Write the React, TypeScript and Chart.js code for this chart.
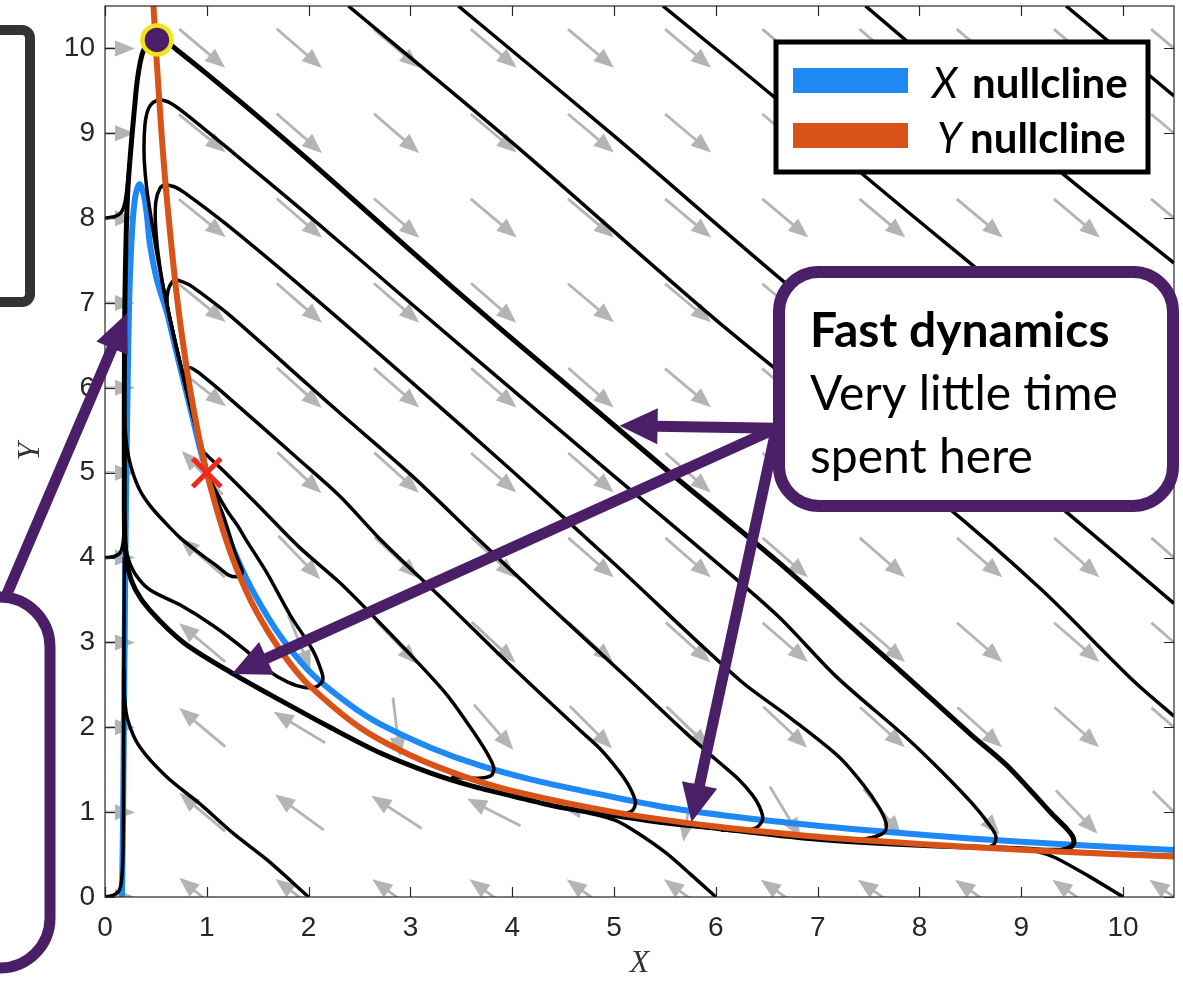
import React, { useEffect, useRef } from 'react';
import { Chart, registerables } from 'chart.js';

Chart.register(...registerables);

// ---------------- data ----------------
const X_TICKS = [0, 1, 2, 3, 4, 5, 6, 7, 8, 9, 10];
const Y_TICKS = [0, 1, 2, 3, 4, 5, 6, 7, 8, 9, 10];

// quiver grid (arrow centres) and arrow directions (degrees on screen, CCW)
const QUIVER_X = [0, 0.955, 1.909, 2.864, 3.818, 4.773, 5.727, 6.682, 7.636, 8.591, 9.545, 10.5];
const QUIVER_Y = [0, 1, 2, 3, 4, 5, 6, 7, 8, 9, 10];
const ANG_Y0 = [0, 140, 143, 144, 144, 144, 144, 145, 145, 145, 145, 145];
const ANG_Y1 = [0, 140, 144, 147, 153, 170, -99, -59, -51, -48, -46, -45];
const ANG_Y2 = [0, 140, 149, -83, -49, -45, -44, -43, -42, -42, -42, -41];
const ANG_Y3 = [0, 140, -68, -46, -43, -42, -42, -41, -41, -41, -41, -41];
const ANG_Y4 = [0, 139, -46, -43, -42, -41, -41, -41, -41, -41, -41, -41];
const ANG_Y5 = [0, 133, -43, -42, -41, -41, -41, -41, -41, -40, -40, -40];
const ANG_Y6 = [0, -38, -42, -41, -41, -41, -40, -40, -40, -40, -40, -40];
const ANG_Y7 = [0, -39, -41, -41, -41, -40, -40, -40, -40, -40, -40, -40];
const ANG_Y8 = [0, -39, -41, -41, -40, -40, -40, -40, -40, -40, -40, -40];
const ANG_Y9 = [0, -39, -41, -41, -40, -40, -40, -40, -40, -40, -40, -40];
const ANG_Y10 = [0, -40, -41, -40, -40, -40, -40, -40, -40, -40, -40, -40];
const QUIVER_ANGLES = [ANG_Y0, ANG_Y1, ANG_Y2, ANG_Y3, ANG_Y4, ANG_Y5, ANG_Y6, ANG_Y7, ANG_Y8, ANG_Y9, ANG_Y10];

// nullclines
const X_NULLCLINE = [
  [0.167, 0], [0.178, 1], [0.185, 2], [0.193, 3], [0.2, 4], [0.21, 5], [0.222, 6], [0.237, 7], [0.255, 7.6],
  [0.278, 8.05], [0.305, 8.3], [0.34, 8.4], [0.38, 8.28], [0.41, 8.05], [0.44, 7.7], [0.51, 7.27], [0.61, 6.88],
  [0.69, 6.48], [0.77, 6.09], [0.85, 5.7], [0.93, 5.3], [1.0, 5.0], [1.1, 4.6], [1.2, 4.27], [1.39, 3.75],
  [1.6, 3.3], [1.8, 2.95], [2.04, 2.62], [2.4, 2.27], [2.7, 2.04], [3.2, 1.76], [3.68, 1.55], [4.2, 1.38],
  [4.66, 1.26], [5.45, 1.07], [6.23, 0.94], [7.0, 0.84], [7.67, 0.77], [8.5, 0.69], [9.5, 0.615], [10.5, 0.555]
];
const Y_NULLCLINE = [
  [0.476, 10.5], [0.5, 10], [0.55, 9.09], [0.6, 8.33], [0.7, 7.14], [0.8, 6.25], [0.9, 5.56], [1.0, 5.0],
  [1.2, 4.17], [1.4, 3.57], [1.6, 3.13], [1.8, 2.78], [2.0, 2.5], [2.5, 2.0], [3.0, 1.67], [3.5, 1.43],
  [4.0, 1.25], [5.0, 1.0], [6.0, 0.83], [7.0, 0.71], [8.0, 0.625], [9.0, 0.556], [10.0, 0.5], [10.5, 0.476]
];

// trajectories
const LIMIT_CYCLE = [
  [0.51, 10.1], [0.62, 10.06], [0.72, 9.97], [1.0, 9.7], [1.5, 9.2], [2.11, 8.57], [3.0, 7.62], [3.88, 6.7],
  [4.5, 6.07], [5.5, 5.05], [6.6, 3.96], [7.5, 3.0], [7.9, 2.57], [8.5, 1.92], [8.85, 1.56], [9.08, 1.27],
  [9.3, 0.98], [9.45, 0.8], [9.51, 0.7], [9.51, 0.62], [9.44, 0.565], [9.3, 0.55], [9.0, 0.57], [8.0, 0.61],
  [7.0, 0.68], [6.0, 0.81], [5.45, 0.88], [5.0, 0.96], [4.5, 1.05], [4.0, 1.19], [3.6, 1.31], [3.2, 1.46],
  [2.7, 1.7], [2.21, 2.0], [1.72, 2.32], [1.26, 2.63], [0.77, 3.0], [0.44, 3.38], [0.3, 3.62], [0.23, 3.85],
  [0.195, 4.2], [0.19, 5.0], [0.19, 6.0], [0.195, 7.0], [0.208, 7.8], [0.225, 8.35], [0.255, 8.83], [0.29, 9.3],
  [0.32, 9.65], [0.37, 9.95], [0.44, 10.07], [0.51, 10.1]
];
const PEAK_1 = [
  [1.0, 5.0], [0.96, 5.26], [0.88, 5.6], [0.8, 5.98], [0.72, 6.38], [0.64, 6.8], [0.57, 7.2], [0.51, 7.58],
  [0.46, 7.95], [0.41, 8.35], [0.385, 8.7], [0.385, 8.95], [0.4, 9.17], [0.44, 9.32], [0.52, 9.39], [0.62, 9.37],
  [0.77, 9.25], [1.26, 8.77], [2.0, 8.03], [3.0, 7.0], [4.0, 5.98], [5.0, 4.96], [6.0, 3.95], [6.62, 3.3],
  [7.18, 2.6], [7.87, 1.88], [8.2, 1.5], [8.52, 1.1], [8.68, 0.86], [8.75, 0.72], [8.73, 0.62], [8.64, 0.585], [8.45, 0.59]
];
const PEAK_2 = [
  [1.0, 5.0], [0.96, 5.26], [0.88, 5.6], [0.8, 5.98], [0.72, 6.38], [0.64, 6.8], [0.57, 7.2], [0.52, 7.6],
  [0.495, 7.95], [0.5, 8.2], [0.54, 8.35], [0.59, 8.39], [0.68, 8.37], [0.77, 8.31], [1.2, 7.92], [2.0, 7.12],
  [3.0, 6.08], [4.0, 5.02], [5.0, 3.93], [6.23, 2.56], [6.72, 2.12], [7.21, 1.65], [7.45, 1.32], [7.6, 1.06],
  [7.67, 0.88], [7.66, 0.77], [7.56, 0.71], [7.35, 0.66]
];
const PEAK_3 = [
  [1.0, 5.0], [0.96, 5.26], [0.88, 5.6], [0.8, 5.98], [0.72, 6.38], [0.65, 6.75], [0.61, 7.0], [0.62, 7.15],
  [0.66, 7.25], [0.7, 7.27], [0.8, 7.23], [0.86, 7.19], [1.2, 6.88], [2.0, 6.03], [2.31, 5.7], [3.0, 4.98],
  [3.68, 4.2], [4.3, 3.5], [5.15, 2.56], [5.7, 1.94], [6.0, 1.62], [6.23, 1.38], [6.36, 1.2], [6.43, 1.06],
  [6.46, 0.92], [6.4, 0.82], [6.25, 0.78], [6.05, 0.79]
];
const PEAK_4 = [
  [1.0, 5.0], [0.96, 5.26], [0.88, 5.6], [0.81, 5.95], [0.785, 6.08], [0.79, 6.18], [0.82, 6.24], [0.87, 6.22],
  [0.93, 6.17], [1.2, 5.9], [1.91, 5.15], [2.31, 4.72], [2.7, 4.22], [3.36, 3.46], [4.0, 2.71], [4.66, 1.97],
  [4.86, 1.75], [5.05, 1.48], [5.15, 1.3], [5.21, 1.12], [5.18, 1.02], [5.08, 0.98], [4.9, 0.98]
];
const DOWN_1 = [
  [1.0, 5.0], [1.05, 4.85], [1.1, 4.68], [1.16, 4.5], [1.22, 4.28], [1.28, 4.05], [1.33, 3.9], [1.35, 3.83],
  [1.32, 3.78], [1.22, 3.79], [1.1, 3.9], [0.93, 4.05], [0.75, 4.22], [0.6, 4.4], [0.45, 4.6], [0.34, 4.8],
  [0.26, 5.05], [0.215, 5.3], [0.193, 5.6]
];
const DOWN_2 = [
  [1.0, 5.0], [1.08, 4.8], [1.2, 4.55], [1.3, 4.38], [1.39, 4.2], [1.59, 3.82], [1.82, 3.32], [2.04, 2.91],
  [2.12, 2.68], [2.14, 2.56], [2.08, 2.48], [1.96, 2.47], [1.8, 2.53], [1.59, 2.68], [1.39, 2.9], [1.06, 3.2],
  [0.74, 3.44], [0.44, 3.62], [0.3, 3.8], [0.225, 4.0], [0.196, 4.2]
];
const DOWN_3 = [
  [0.97, 5.24], [1.2, 4.98], [1.5, 4.62], [1.91, 4.12], [2.31, 3.7], [2.7, 3.23], [3.02, 2.83], [3.36, 2.38],
  [3.6, 1.98], [3.75, 1.7], [3.82, 1.52], [3.79, 1.43], [3.66, 1.4], [3.4, 1.41]
];
const START_0_0 = [[0, 0], [0.08, 0.02], [0.14, 0.08], [0.165, 0.22], [0.178, 0.6], [0.183, 1.5], [0.185, 2.5], [0.188, 3.5], [0.19, 4.0]];
const START_2_0 = [[2, 0], [1.59, 0.44], [1.26, 0.75], [0.93, 1.1], [0.61, 1.41], [0.34, 1.77], [0.225, 2.08], [0.192, 2.35], [0.185, 2.7]];
const START_6_0 = [[6, 0], [5.75, 0.27], [5.51, 0.52], [5.25, 0.74], [5.02, 0.9], [4.75, 0.99], [4.5, 1.05]];
const START_10_0 = [[10, 0], [9.67, 0.24], [9.34, 0.46], [9.15, 0.54], [8.9, 0.58]];
const START_0_4 = [[0, 4], [0.08, 4.01], [0.15, 4.06], [0.18, 4.2], [0.19, 4.45]];
const START_0_8 = [[0, 8], [0.1, 8.02], [0.16, 8.07], [0.195, 8.18], [0.225, 8.45], [0.255, 8.83], [0.29, 9.3]];
const FROM_RIGHT = [[10.5, 0.49], [10, 0.51], [9.5, 0.54], [9.2, 0.555]];
const DIAG_1 = [[2.39, 10.5], [4, 8.89], [6.1, 6.7], [8.19, 4.68], [9.2, 3.62], [10.09, 2.56], [10.5, 2.13]];
const DIAG_2 = [[3.47, 10.5], [5, 8.97], [6.62, 7.3], [8, 5.95], [9.3, 4.68], [10.5, 3.46]];
const DIAG_3 = [[5.48, 10.5], [6.62, 9.38], [7.41, 8.55], [9, 6.97], [10.5, 5.45]];
const DIAG_4 = [[7.47, 10.5], [8.5, 9.45], [9.4, 8.53], [10.5, 7.47]];
const DIAG_5 = [[9.44, 10.5], [10.5, 9.44]];

const THIN_TRAJECTORIES = [PEAK_1, PEAK_2, PEAK_3, PEAK_4, DOWN_1, DOWN_2, DOWN_3, START_0_0, START_2_0,
  START_6_0, START_10_0, START_0_4, START_0_8, FROM_RIGHT, DIAG_1, DIAG_2, DIAG_3, DIAG_4, DIAG_5];

const FIXED_POINT = [[1.0, 5.0]];
const CURRENT_STATE = [[0.51, 10.1]];

const LEGEND_SYMBOLS = ['X', 'Y'];
const LEGEND_WORD = 'nullcline';
const CALLOUT_TITLE = 'Fast dynamics';
const CALLOUT_LINES = ['Very little time', 'spent here'];
const X_TITLE = 'X';
const Y_TITLE = 'Y';

// ---------------- styles ----------------
const BLUE = '#1e88f4';
const ORANGE = '#d95319';
const PURPLE = '#4b1f68';
const YELLOW = '#f3e514';
const RED = '#f0291f';
const ARROW_GRAY = '#b4b4b4';
const AXIS_COLOR = '#262626';

// annotation anchors in data units
const CALLOUT_ORIGIN = [6.595, 5.524];
const CALLOUT_TIPS = [[5.054, 5.554], [1.246, 2.627], [5.761, 0.883]];
const LEFT_POINTER = { from: [-0.972, 3.545], to: [0.216, 6.879] };

const toPts = (a: number[][]) => a.map(([x, y]) => ({ x, y }));

function drawArrow(ctx: CanvasRenderingContext2D, x0: number, y0: number, x1: number, y1: number, w: number, hl: number, hw: number) {
  const dx = x1 - x0, dy = y1 - y0;
  const len = Math.hypot(dx, dy);
  const ux = dx / len, uy = dy / len;
  const bx = x1 - ux * hl, by = y1 - uy * hl;
  ctx.lineWidth = w;
  ctx.lineCap = 'butt';
  ctx.beginPath();
  ctx.moveTo(x0, y0);
  ctx.lineTo(bx + ux * 2, by + uy * 2);
  ctx.stroke();
  ctx.beginPath();
  ctx.moveTo(x1, y1);
  ctx.lineTo(bx - uy * hw, by + ux * hw);
  ctx.lineTo(bx + uy * hw, by - ux * hw);
  ctx.closePath();
  ctx.fill();
}

function roundRect(ctx: CanvasRenderingContext2D, x: number, y: number, w: number, h: number, r: number) {
  ctx.beginPath();
  ctx.moveTo(x + r, y);
  ctx.arcTo(x + w, y, x + w, y + h, r);
  ctx.arcTo(x + w, y + h, x, y + h, r);
  ctx.arcTo(x, y + h, x, y, r);
  ctx.arcTo(x, y, x + w, y, r);
  ctx.closePath();
}

const quiverPlugin = {
  id: 'quiver',
  beforeDatasetsDraw(chart: any) {
    const { ctx, chartArea: a, scales } = chart;
    ctx.save();
    ctx.beginPath();
    ctx.rect(a.left, a.top, a.right - a.left, a.bottom - a.top);
    ctx.clip();
    ctx.strokeStyle = ARROW_GRAY;
    ctx.fillStyle = ARROW_GRAY;
    ctx.lineWidth = 2.8;
    const L = 60, H = 20, W = 8;
    QUIVER_Y.forEach((yv, r) => {
      QUIVER_X.forEach((xv, c) => {
        const cx = scales.x.getPixelForValue(xv);
        const cy = scales.y.getPixelForValue(yv);
        const th = (QUIVER_ANGLES[r][c] * Math.PI) / 180;
        const ux = Math.cos(th), uy = -Math.sin(th);
        const tx = cx - (ux * L) / 2, ty = cy - (uy * L) / 2;
        const hx = cx + (ux * L) / 2, hy = cy + (uy * L) / 2;
        const bx = hx - ux * H, by = hy - uy * H;
        ctx.beginPath();
        ctx.moveTo(tx, ty);
        ctx.lineTo(bx + ux * 2, by + uy * 2);
        ctx.stroke();
        ctx.beginPath();
        ctx.moveTo(hx, hy);
        ctx.lineTo(bx - uy * W, by + ux * W);
        ctx.lineTo(bx + uy * W, by - ux * W);
        ctx.closePath();
        ctx.fill();
      });
    });
    ctx.restore();
  }
};

const framePlugin = {
  id: 'frame',
  afterDatasetsDraw(chart: any) {
    const { ctx, chartArea: a, scales } = chart;
    ctx.save();
    ctx.strokeStyle = AXIS_COLOR;
    ctx.lineWidth = 1.2;
    ctx.strokeRect(a.left, a.top, a.right - a.left, a.bottom - a.top);
    const tl = 10;
    ctx.beginPath();
    X_TICKS.forEach((v) => {
      const px = Math.round(scales.x.getPixelForValue(v)) + 0.5;
      ctx.moveTo(px, a.bottom); ctx.lineTo(px, a.bottom - tl);
      ctx.moveTo(px, a.top); ctx.lineTo(px, a.top + tl);
    });
    Y_TICKS.forEach((v) => {
      const py = Math.round(scales.y.getPixelForValue(v)) + 0.5;
      ctx.moveTo(a.left, py); ctx.lineTo(a.left + tl, py);
      ctx.moveTo(a.right, py); ctx.lineTo(a.right - tl, py);
    });
    ctx.stroke();
    ctx.restore();
  }
};

const overlayPlugin = {
  id: 'overlay',
  afterDraw(chart: any) {
    const { ctx, scales } = chart;
    const px = (p: number[]) => [scales.x.getPixelForValue(p[0]), scales.y.getPixelForValue(p[1])];
    ctx.save();

    // callout arrows
    ctx.strokeStyle = PURPLE;
    ctx.fillStyle = PURPLE;
    const [ox, oy] = px(CALLOUT_ORIGIN);
    CALLOUT_TIPS.forEach((t) => {
      const [tx, ty] = px(t);
      drawArrow(ctx, ox, oy, tx, ty, 11, 38, 18);
    });

    // callout box
    roundRect(ctx, 779, 272, 394, 234, 40);
    ctx.fillStyle = '#ffffff';
    ctx.fill();
    ctx.lineWidth = 12;
    ctx.strokeStyle = PURPLE;
    ctx.stroke();
    ctx.fillStyle = '#000000';
    ctx.textBaseline = 'alphabetic';
    ctx.textAlign = 'left';
    ctx.font = 'bold 48px Lato';
    ctx.fillText(CALLOUT_TITLE, 810, 347);
    ctx.font = '48px Lato';
    CALLOUT_LINES.forEach((s, i) => ctx.fillText(s, 810, 410 + i * 63));

    // legend
    ctx.fillStyle = '#ffffff';
    ctx.fillRect(776, 42, 372, 130);
    ctx.lineWidth = 5;
    ctx.strokeStyle = '#000000';
    ctx.strokeRect(776, 42, 372, 130);
    const swatch = [BLUE, ORANGE];
    LEGEND_SYMBOLS.forEach((sym, i) => {
      const base = 98 + i * 55;
      ctx.fillStyle = swatch[i];
      ctx.fillRect(793, base - 30, 115, 25);
      ctx.fillStyle = '#000000';
      ctx.font = 'italic 42px Lato';
      ctx.fillText(sym, i === 0 ? 932 : 937, base);
      ctx.font = 'bold 42px Lato';
      ctx.fillText(LEGEND_WORD, i === 0 ? 972 : 970, base);
    });

    // top-left grey bracket box
    ctx.strokeStyle = '#333333';
    ctx.lineWidth = 10;
    ctx.lineJoin = 'round';
    ctx.beginPath();
    ctx.moveTo(-10, 30);
    ctx.arcTo(30, 30, 30, 70, 8);
    ctx.arcTo(30, 302, -10, 302, 8);
    ctx.lineTo(-10, 302);
    ctx.stroke();

    // bottom-left purple box and pointer
    ctx.strokeStyle = PURPLE;
    ctx.fillStyle = PURPLE;
    ctx.lineWidth = 11;
    ctx.beginPath();
    ctx.moveTo(-10, 597);
    ctx.arcTo(50, 597, 50, 700, 50);
    ctx.arcTo(50, 968, -10, 968, 50);
    ctx.lineTo(-10, 968);
    ctx.stroke();
    const [fx, fy] = px(LEFT_POINTER.from);
    const [tx, ty] = px(LEFT_POINTER.to);
    drawArrow(ctx, fx, fy, tx, ty, 11, 38, 17);

    ctx.restore();
  }
};

export default function App() {
  const ref = useRef<HTMLCanvasElement>(null);
  useEffect(() => {
    const canvas = ref.current!;
    const lineDs = (data: number[][], color: string, width: number, order: number) => ({
      type: 'line',
      data: toPts(data),
      borderColor: color,
      backgroundColor: color,
      borderWidth: width,
      pointRadius: 0,
      tension: 0.3,
      fill: false,
      order
    });
    const datasets: any[] = [
      {
        type: 'scatter',
        data: toPts(CURRENT_STATE),
        pointStyle: 'circle',
        pointRadius: 14.5,
        backgroundColor: PURPLE,
        borderColor: YELLOW,
        borderWidth: 4.5,
        order: -2
      },
      {
        type: 'scatter',
        data: toPts(FIXED_POINT),
        pointStyle: 'crossRot',
        pointRadius: 20,
        borderColor: RED,
        backgroundColor: RED,
        borderWidth: 5,
        order: -1
      },
      lineDs(Y_NULLCLINE, ORANGE, 6, 0),
      lineDs(LIMIT_CYCLE, '#000000', 5, 1),
      ...THIN_TRAJECTORIES.map((t) => lineDs(t, '#000000', 3.5, 1)),
      lineDs(X_NULLCLINE, BLUE, 6, 3)
    ];
    const chart = new Chart(canvas, {
      type: 'line',
      data: { datasets },
      options: {
        responsive: false,
        devicePixelRatio: 1,
        animation: false,
        events: [],
        layout: { autoPadding: false, padding: { left: 0, right: 9, top: 6, bottom: 0 } },
        plugins: { legend: { display: false }, tooltip: { enabled: false }, title: { display: false } },
        scales: {
          x: {
            type: 'linear',
            min: 0,
            max: 10.5,
            afterBuildTicks: (s: any) => { s.ticks = X_TICKS.map((v) => ({ value: v })); },
            afterFit: (s: any) => { s.height = 84; s.paddingLeft = 0; s.paddingRight = 0; s.paddingTop = 0; s.paddingBottom = 0; },
            grid: { display: false, drawTicks: false },
            border: { display: false },
            ticks: {
              autoSkip: false,
              maxRotation: 0,
              padding: 14,
              color: AXIS_COLOR,
              font: { family: 'Liberation Sans, Arial', size: 28 },
              callback: (v: any) => String(v)
            },
            title: {
              display: true,
              text: X_TITLE,
              color: '#333333',
              font: { family: 'Liberation Serif, Times New Roman', size: 32, style: 'italic', lineHeight: 1 },
              padding: { top: 0, bottom: 1 }
            }
          },
          y: {
            type: 'linear',
            min: 0,
            max: 10.5,
            afterBuildTicks: (s: any) => { s.ticks = Y_TICKS.map((v) => ({ value: v })); },
            afterFit: (s: any) => { s.width = 105; s.paddingLeft = 0; s.paddingRight = 0; s.paddingTop = 0; s.paddingBottom = 0; },
            grid: { display: false, drawTicks: false },
            border: { display: false },
            ticks: {
              autoSkip: false,
              padding: 10,
              color: AXIS_COLOR,
              font: { family: 'Liberation Sans, Arial', size: 28 },
              callback: (v: any) => String(v)
            },
            title: {
              display: true,
              text: Y_TITLE,
              color: '#333333',
              font: { family: 'Liberation Serif, Times New Roman', size: 32, style: 'italic', lineHeight: 1 },
              padding: { top: 15, bottom: 0 }
            }
          }
        }
      },
      plugins: [quiverPlugin, framePlugin, overlayPlugin]
    } as any);
    return () => chart.destroy();
  }, []);
  return (
    <div style={{ position: 'absolute', left: 0, top: 0, width: 1183, height: 981, background: '#ffffff' }}>
      <canvas ref={ref} width={1183} height={981} style={{ display: 'block', width: 1183, height: 981 }} />
    </div>
  );
}
